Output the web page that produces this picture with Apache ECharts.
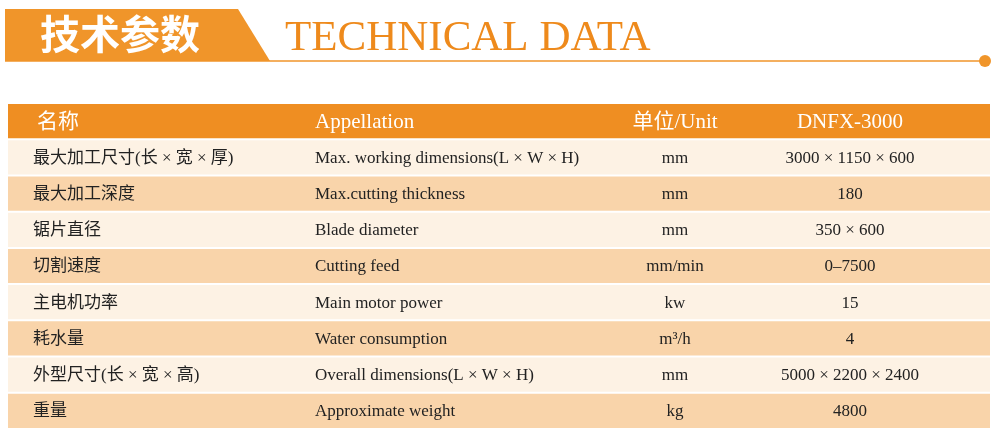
<!DOCTYPE html>
<html><head><meta charset="utf-8">
<script src="https://cdn.jsdelivr.net/npm/echarts@6/dist/echarts.min.js"></script>
<style>html,body{margin:0;background:#fff}#main{width:1000px;height:440px}</style>
</head><body><div id="main"></div>
<script>
var header = ['名称', 'Appellation', '单位/Unit', 'DNFX-3000'];
var namesCn = ['最大加工尺寸(长 × 宽 × 厚)', '最大加工深度', '锯片直径', '切割速度', '主电机功率', '耗水量', '外型尺寸(长 × 宽 × 高)', '重量'];
var namesEn = ['Max. working dimensions(L × W × H)', 'Max.cutting thickness', 'Blade diameter', 'Cutting feed', 'Main motor power', 'Water consumption', 'Overall dimensions(L × W × H)', 'Approximate weight'];
var units = ['mm', 'mm', 'mm', 'mm/min', 'kw', 'm³/h', 'mm', 'kg'];
var values = ['3000 × 1150 × 600', '180', '350 × 600', '0–7500', '15', '4', '5000 × 2200 × 2400', '4800'];

var FONT = '"Liberation Serif", "Noto Sans CJK SC", serif';
var rows = [header];
namesCn.forEach(function (n, i) { rows.push([n, namesEn[i], units[i], values[i]]); });

var myChart = echarts.init(document.getElementById('main'));
myChart.setOption({
  animation: false,
  grid: { left: 8, right: 10, top: 103, bottom: 11 },
  xAxis: { type: 'value', min: 0, max: 1, show: false },
  yAxis: { type: 'category', inverse: true, show: false, data: rows.map(function (r, i) { return i; }) },
  graphic: [
    { type: 'polygon', shape: { points: [[5, 9], [238, 9], [270, 61], [5, 61]] }, style: { fill: '#F0952A' } },
    { type: 'text', left: 40, top: 14, style: { text: '技术参数', fill: '#fff', font: 'bold 40px "Noto Sans CJK SC"' } },
    { type: 'text', left: 285, top: 17, style: { text: 'TECHNICAL DATA', fill: '#EE8A1C', font: '43px ' + FONT } },
    { type: 'line', shape: { x1: 5, y1: 61, x2: 985, y2: 61 }, style: { stroke: '#F0952A', lineWidth: 1.5 } },
    { type: 'circle', shape: { cx: 985, cy: 61, r: 6 }, style: { fill: '#F0952A' } }
  ],
  series: [{
    type: 'custom',
    data: rows.map(function (r, i) { return [i]; }),
    encode: { y: 0 },
    renderItem: function (params, api) {
      var i = api.value(0);
      var r = rows[i];
      var c = api.coord([0, i]);
      var h = api.size([0, 1])[1];
      var x0 = params.coordSys.x, w = params.coordSys.width;
      var top = c[1] - h / 2;
      var head = i === 0;
      var fill = head ? '#EF8E22' : (i % 2 === 1 ? '#FDF2E4' : '#F9D4AA');
      var col = head ? '#fff' : '#222';
      var font = (head ? '21px ' : '17px ') + FONT;
      var cy = c[1] + 1;
      return {
        type: 'group',
        children: [
          { type: 'rect', shape: { x: x0, y: top + 1, width: w, height: h - 2 }, style: { fill: fill } },
          { type: 'text', style: { text: r[0], x: head ? 37 : 33, y: cy, verticalAlign: 'middle', fill: col, font: font } },
          { type: 'text', style: { text: r[1], x: 315, y: cy, verticalAlign: 'middle', fill: col, font: font } },
          { type: 'text', style: { text: r[2], x: 675, y: cy, align: 'center', verticalAlign: 'middle', fill: col, font: font } },
          { type: 'text', style: { text: r[3], x: 850, y: cy, align: 'center', verticalAlign: 'middle', fill: col, font: font } }
        ]
      };
    }
  }]
});
</script></body></html>
